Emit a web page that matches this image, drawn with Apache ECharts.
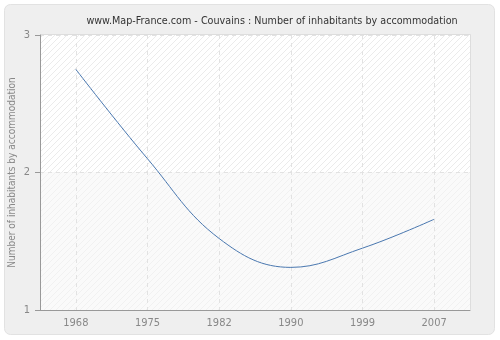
<!DOCTYPE html>
<html>
<head>
<meta charset="utf-8">
<script src="https://cdn.jsdelivr.net/npm/echarts@6/dist/echarts.min.js"></script>
<style>
    html, body { margin: 0; padding: 0; background: #fff; }
    #chart { width: 500px; height: 340px; }
</style>
</head>
<body>
<div id="chart"></div>
<script>
    var years = ['1968', '1975', '1982', '1990', '1999', '2007'];
    var inhabitants = [2.75, 2.1, 1.52, 1.31, 1.45, 1.66];
    var yTicks = [1, 2, 3];

    // diagonal hatch used for the plot background
    function hatch(bg, stripe) {
        var c = document.createElement('canvas');
        c.width = 6;
        c.height = 6;
        var ctx = c.getContext('2d');
        ctx.fillStyle = bg;
        ctx.fillRect(0, 0, 6, 6);
        ctx.strokeStyle = stripe;
        ctx.lineWidth = 1;
        ctx.beginPath();
        ctx.moveTo(0, 6);
        ctx.lineTo(6, 0);
        ctx.moveTo(-1, 1);
        ctx.lineTo(1, -1);
        ctx.moveTo(5, 7);
        ctx.lineTo(7, 5);
        ctx.stroke();
        return {image: c, repeat: 'repeat'};
    }

    var font = '"DejaVu Sans Condensed", "DejaVu Sans", sans-serif';

    var chart = echarts.init(document.getElementById('chart'));

    chart.setOption({
        backgroundColor: '#ffffff',
        animation: false,
        graphic: [{
            type: 'rect',
            shape: {x: 4.5, y: 4.5, width: 490, height: 330, r: 6},
            style: {fill: '#efefef', stroke: '#e2e2e2', lineWidth: 1},
            z: -10
        }, {
            type: 'rect',
            shape: {x: 40.5, y: 34.5, width: 430, height: 275},
            style: {fill: 'none', stroke: '#dddddd', lineWidth: 1},
            z: -5
        }, {
            // x axis line runs a little past the y axis
            type: 'line',
            shape: {x1: 35, y1: 310.5, x2: 41, y2: 310.5},
            style: {stroke: '#999', lineWidth: 1},
            z: 5
        }],
        title: {
            text: 'www.Map-France.com - Couvains : Number of inhabitants by accommodation',
            left: 267,
            top: 11,
            textAlign: 'center',
            textStyle: {
                fontFamily: font,
                fontSize: 10.7,
                fontWeight: 'normal',
                color: '#333'
            }
        },
        grid: {
            left: 40,
            right: 30,
            top: 35,
            bottom: 30,
            containLabel: false,
            outerBoundsMode: 'none'
        },
        xAxis: {
            type: 'category',
            data: years,
            boundaryGap: true,
            axisLine: {lineStyle: {color: '#999'}},
            axisTick: {alignWithLabel: true, length: 5, lineStyle: {color: '#999'}},
            axisLabel: {
                color: '#888',
                fontFamily: font,
                fontSize: 11,
                margin: 8
            },
            splitLine: {
                show: true,
                alignWithLabel: true,
                lineStyle: {color: '#e2e2e2', type: [4, 4]}
            }
        },
        yAxis: {
            type: 'value',
            min: 1,
            max: 3,
            interval: 1,
            name: 'Number of inhabitants by accommodation',
            nameLocation: 'middle',
            nameGap: 23,
            nameMoveOverlap: false,
            nameTextStyle: {
                color: '#888',
                fontFamily: font,
                fontSize: 10
            },
            axisLine: {show: true, lineStyle: {color: '#999'}},
            axisTick: {show: true, length: 5, lineStyle: {color: '#999'}},
            axisLabel: {
                color: '#888',
                fontFamily: font,
                fontSize: 11,
                margin: 10,
                customValues: yTicks
            },
            splitLine: {
                lineStyle: {color: '#e2e2e2', type: [4, 4]}
            },
            splitArea: {
                show: true,
                areaStyle: {
                    color: [hatch('#fafafa', '#f1f1f1'), hatch('#ffffff', '#ebebeb')]
                }
            }
        },
        series: [{
            name: 'inhabitants',
            type: 'line',
            smooth: 0.4,
            symbol: 'none',
            data: inhabitants,
            lineStyle: {color: '#4a78b0', width: 1}
        }]
    });
</script>
</body>
</html>
